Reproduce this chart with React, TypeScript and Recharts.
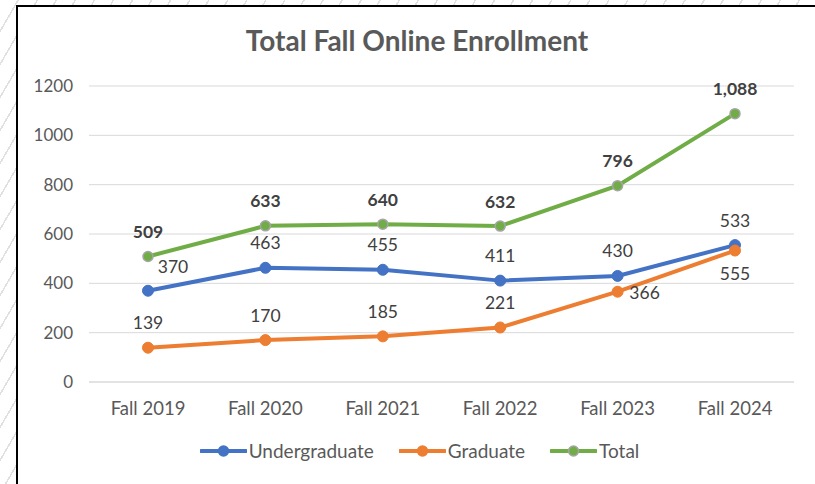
import React from 'react';
import { LineChart, Line, XAxis, YAxis, CartesianGrid } from 'recharts';

const categories = ['Fall 2019', 'Fall 2020', 'Fall 2021', 'Fall 2022', 'Fall 2023', 'Fall 2024'];
const undergraduate = [370, 463, 455, 411, 430, 555];
const graduate = [139, 170, 185, 221, 366, 533];
const total = [509, 633, 640, 632, 796, 1088];
const undergraduateLabels = ['370', '463', '455', '411', '430', '533'];
const graduateLabels = ['139', '170', '185', '221', '366', '555'];
const totalLabels = ['509', '633', '640', '632', '796', '1,088'];
const yTicks = [0, 200, 400, 600, 800, 1000, 1200];

const undergraduatePlacement = ['topRight', 'top', 'top', 'top', 'top', 'top'];
const graduatePlacement = ['top', 'top', 'top', 'top', 'right', 'bottom'];
const totalPlacement = ['top', 'top', 'top', 'top', 'top', 'top'];

const data = categories.map((c, i) => ({
  name: c,
  undergraduate: undergraduate[i],
  graduate: graduate[i],
  total: total[i],
}));

const FONT = 'Lato, "Open Sans", sans-serif';
const BLUE = '#4472C4';
const ORANGE = '#ED7D31';
const GREEN = '#70AD47';

const OFFSETS: Record<string, [number, number]> = {
  top: [0, -25],
  topRight: [25, -24],
  right: [27, 1],
  bottom: [0, 23],
};

function makeLabel(texts: string[], placement: string[], bold: boolean) {
  return (props: any) => {
    const { x, y, index } = props;
    const [dx, dy] = OFFSETS[placement[index]] || [0, -25];
    return (
      <text
        key={`l-${index}`}
        x={x + dx}
        y={y + dy}
        textAnchor="middle"
        dominantBaseline="central"
        fontFamily={FONT}
        fontSize={17.5}
        fontWeight={bold ? 700 : 400}
        fill="#404040"
      >
        {texts[index]}
      </text>
    );
  };
}

const legendItems = [
  { label: 'Undergraduate', color: BLUE, stroke: BLUE },
  { label: 'Graduate', color: ORANGE, stroke: ORANGE },
  { label: 'Total', color: GREEN, stroke: '#A5A5A5' },
];

export default function App() {
  return (
    <div
      style={{
        position: 'absolute',
        left: 0,
        top: 0,
        width: 815,
        height: 484,
        overflow: 'hidden',
        background:
          'repeating-linear-gradient(120deg, #ffffff 0px, #ffffff 15px, #e0e0e0 15px, #e0e0e0 16.5px)',
      }}
    >
      <div
        style={{
          position: 'absolute',
          left: 16,
          top: 5,
          width: 820,
          height: 477,
          background: '#ffffff',
          borderLeft: '2px solid #000',
          borderTop: '2px solid #000',
          borderBottom: '1px solid #d0d0d0',
        }}
      />
      <div
        style={{
          position: 'absolute',
          left: 16,
          width: 802,
          top: 23,
          textAlign: 'center',
          fontFamily: FONT,
          fontWeight: 700,
          fontSize: 28,
          color: '#595959',
        }}
      >
        Total Fall Online Enrollment
      </div>
      <div style={{ position: 'absolute', left: 0, top: 0 }}>
        <LineChart
          width={815}
          height={484}
          data={data}
          margin={{ top: 86, right: 21, bottom: 72, left: 29 }}
        >
          <CartesianGrid vertical={false} stroke="#d9d9d9" strokeWidth={1} />
          <XAxis
            dataKey="name"
            height={30}
            padding={{ left: 59, right: 59 }}
            tickLine={false}
            tickSize={0}
            tickMargin={20}
            axisLine={{ stroke: '#d9d9d9' }}
            tick={{ fontFamily: FONT, fontSize: 18.5, fill: '#595959' }}
          />
          <YAxis
            width={60}
            domain={[0, 1200]}
            ticks={yTicks}
            tickLine={false}
            tickSize={0}
            tickMargin={16}
            axisLine={false}
            tick={{ fontFamily: FONT, fontSize: 17, fill: '#595959' }}
          />
          <Line
            dataKey="undergraduate"
            stroke={BLUE}
            strokeWidth={4}
            dot={{ r: 5.5, fill: BLUE, stroke: BLUE, strokeWidth: 1 }}
            isAnimationActive={false}
            label={makeLabel(undergraduateLabels, undergraduatePlacement, false)}
          />
          <Line
            dataKey="graduate"
            stroke={ORANGE}
            strokeWidth={4}
            dot={{ r: 5.5, fill: ORANGE, stroke: ORANGE, strokeWidth: 1 }}
            isAnimationActive={false}
            label={makeLabel(graduateLabels, graduatePlacement, false)}
          />
          <Line
            dataKey="total"
            stroke={GREEN}
            strokeWidth={4}
            dot={{ r: 5, fill: GREEN, stroke: '#A5A5A5', strokeWidth: 1.5 }}
            isAnimationActive={false}
            label={makeLabel(totalLabels, totalPlacement, true)}
          />
        </LineChart>
      </div>
      <div
        style={{
          position: 'absolute',
          left: 16,
          width: 807,
          top: 440,
          display: 'flex',
          justifyContent: 'center',
          alignItems: 'center',
          fontFamily: FONT,
          fontSize: 19,
          color: '#595959',
        }}
      >
        {legendItems.map((it, i) => (
          <div
            key={it.label}
            style={{ display: 'flex', alignItems: 'center', marginLeft: i === 0 ? 0 : 25 }}
          >
            <svg width={47} height={22} style={{ display: 'block' }}>
              <line x1={1} y1={11} x2={46} y2={11} stroke={it.color} strokeWidth={4} strokeLinecap="round" />
              <circle cx={23.5} cy={11} r={5} fill={it.color} stroke={it.stroke} strokeWidth={1.5} />
            </svg>
            <span style={{ marginLeft: 2, lineHeight: '22px' }}>{it.label}</span>
          </div>
        ))}
      </div>
    </div>
  );
}
